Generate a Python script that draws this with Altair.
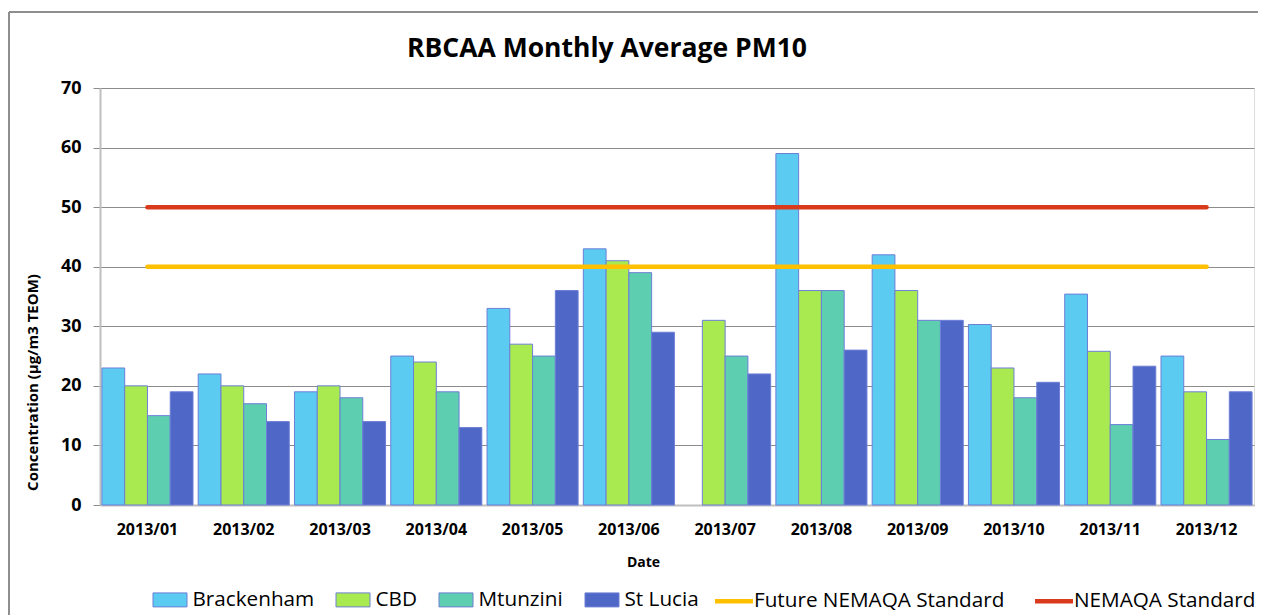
import altair as alt
import pandas as pd

months = ["2013/01", "2013/02", "2013/03", "2013/04", "2013/05", "2013/06",
          "2013/07", "2013/08", "2013/09", "2013/10", "2013/11", "2013/12"]
stations = ["Brackenham", "CBD", "Mtunzini", "St Lucia"]
brackenham = [23, 22, 19, 25, 33, 43, None, 59, 42, 30.3, 35.4, 25]
cbd = [20, 20, 20, 24, 27, 41, 31, 36, 36, 23, 25.8, 19]
mtunzini = [15, 17, 18, 19, 25, 39, 25, 36, 31, 18, 13.5, 11]
st_lucia = [19, 14, 14, 13, 36, 29, 22, 26, 31, 20.6, 23.3, 19]
standards = ["Future NEMAQA Standard", "NEMAQA Standard"]
future_std = [40, 40, 40, 40, 40, 40, 40, 40, 40, 40, 40, 40]
nemaqa_std = [50, 50, 50, 50, 50, 50, 50, 50, 50, 50, 50, 50]

bar_colors = ["#5BCBF2", "#A8EA50", "#5ECEB0", "#4F68C8"]
line_colors = ["#FFC000", "#DA3A1C"]

rows = []
for st, vals in zip(stations, [brackenham, cbd, mtunzini, st_lucia]):
    for m, v in zip(months, vals):
        rows.append({"month": m, "station": st, "value": v})
bar_df = pd.DataFrame(rows)

lrows = []
for sd, vals in zip(standards, [future_std, nemaqa_std]):
    for m, v in zip(months, vals):
        lrows.append({"month": m, "standard": sd, "value": v})
line_df = pd.DataFrame(lrows)

FONT = "Open Sans"

x_enc = alt.X(
    "month:N", sort=months,
    scale=alt.Scale(paddingInner=0.054, paddingOuter=0.02),
    axis=alt.Axis(
        title="Date", titleFont=FONT, titleFontSize=14, titleFontWeight="bold",
        titleColor="#000000", titleX=543, titleY=57, titleBaseline="middle",
        labelFont=FONT, labelFontSize=16, labelFontWeight="bold", labelColor="#000000",
        labelAngle=0, labelBaseline="middle", labelPadding=24,
        ticks=False, tickSize=0, domainColor="#BFBFBF", domainWidth=2,
    ),
)

y_enc = alt.Y(
    "value:Q", scale=alt.Scale(domain=[0, 70]),
    axis=alt.Axis(
        values=[0, 10, 20, 30, 40, 50, 60, 70],
        title="Concentration (µg/m3 TEOM)", titleFont=FONT, titleFontSize=15,
        titleFontWeight="bold", titleColor="#000000", titleAngle=270,
        titleX=-67.5, titleY=294, titleAlign="center", titleBaseline="middle",
        labelFont=FONT, labelFontSize=18, labelFontWeight="bold", labelColor="#000000",
        labelPadding=12, tickSize=7, tickColor="#8C8C8C",
        gridColor="#8C8C8C", gridWidth=1, domainColor="#BFBFBF", domainWidth=2,
    ),
)

bars = alt.Chart(bar_df).mark_bar(stroke="#6D7FD6", strokeWidth=1).encode(
    x=x_enc,
    xOffset=alt.XOffset("station:N", sort=stations, scale=alt.Scale(paddingInner=0, paddingOuter=0)),
    y=y_enc,
    fill=alt.Fill(
        "station:N", sort=stations,
        scale=alt.Scale(domain=stations, range=bar_colors),
        legend=alt.Legend(
            title=None, orient="none", legendX=59.5, legendY=501, direction="horizontal",
            labelFont=FONT, labelFontSize=20.7, labelColor="#000000", labelOffset=12,
            labelLimit=400,
            symbolType="M-1.7,-0.7L1.7,-0.7L1.7,0.7L-1.7,0.7Z", symbolSize=400,
            symbolStrokeColor="#6D7FD6", symbolStrokeWidth=1, symbolOpacity=1,
            columnPadding=19,
        ),
    ),
)

lines = alt.Chart(line_df).mark_line(strokeWidth=4.5, strokeCap="round").encode(
    x=alt.X("month:N", sort=months),
    y=alt.Y("value:Q"),
    stroke=alt.Stroke(
        "standard:N", sort=standards,
        scale=alt.Scale(domain=standards, range=line_colors),
        legend=alt.Legend(
            title=None, orient="none", legendX=622, legendY=501, direction="horizontal",
            labelFont=FONT, labelFontSize=20.7, labelColor="#000000", labelOffset=8,
            labelLimit=400,
            symbolType="M-2,0L2,0", symbolSize=361, symbolStrokeWidth=4.5,
            columnPadding=21,
        ),
    ),
)

frame_src = pd.DataFrame({"k": [0]})
frame_top = alt.Chart(frame_src).mark_rule(color="#8E8E8E", strokeWidth=2).encode(
    x=alt.value(-91), x2=alt.value(1200), y=alt.value(-76)
)
frame_left = alt.Chart(frame_src).mark_rule(color="#8E8E8E", strokeWidth=2).encode(
    x=alt.value(-91), y=alt.value(-76), y2=alt.value(540)
)

chart = alt.layer(bars, lines, frame_top, frame_left).properties(
    width=1154, height=417,
    autosize=alt.AutoSizeParams(type="none"),
    padding={"left": 92, "top": 80, "right": 4, "bottom": 110},
    title=alt.Title(
        "RBCAA Monthly Average PM10", font=FONT, fontSize=26.5, fontWeight="bold",
        color="#000000", anchor="middle", frame="group", dx=-70, offset=0,
        baseline="alphabetic", dy=72,
    ),
).configure_view(
    fill="#F2F2F2", stroke="#262626", strokeWidth=1.5
).configure(background="#FFFFFF")

chart.save("out.html", embed_options={"renderer": "svg", "actions": False})
